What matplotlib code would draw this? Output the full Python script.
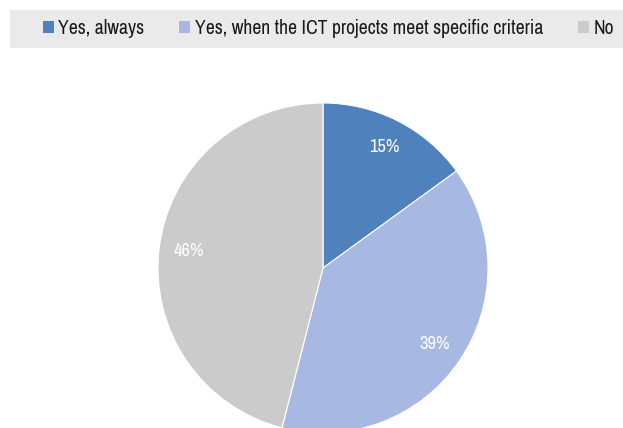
import matplotlib
matplotlib.use("Agg")
import matplotlib.pyplot as plt
from matplotlib.patches import Rectangle, Patch

categories = ["Yes, always", "Yes, when the ICT projects meet specific criteria", "No"]
shares = [15, 39, 46]
colors = ["#4F81BD", "#A7B9E2", "#CBCBCB"]

plt.rcParams['font.family'] = ['Archivo Narrow', 'Liberation Sans', 'DejaVu Sans']

W, H = 623, 428
fig = plt.figure(figsize=(W / 100, H / 100), dpi=100)

# pie axes: square, centred on the chart area
cx, cy, r = 323, 268, 165
ax = fig.add_axes([(cx - r) / W, (H - cy - r) / H, 2 * r / W, 2 * r / H])
wedges, texts, autotexts = ax.pie(
    shares, colors=colors, startangle=90, counterclock=False,
    autopct=lambda p: f"{p:.0f}%", pctdistance=0.82,
    wedgeprops=dict(edgecolor="white", linewidth=0.8),
    textprops=dict(color="white", fontsize=13.3),
)
ax.set_xlim(-1, 1)
ax.set_ylim(-1, 1)
ax.set_aspect("equal")
ax.axis("off")

# legend band across the top
fig.patches.append(Rectangle((10 / W, 1 - 47.5 / H), 1, 38 / H, transform=fig.transFigure,
                             facecolor="#EAEAEA", edgecolor="none", zorder=0))
handles = [Patch(facecolor=c, edgecolor="none") for c in colors]
fig.legend(handles, categories, loc="center left", bbox_to_anchor=(42.5 / W, 1 - 28.5 / H),
           ncol=3, frameon=False, fontsize=14.2, handlelength=0.56, handleheight=0.56,
           handletextpad=0.25, columnspacing=1.75, borderaxespad=0, borderpad=0,
           labelcolor="#1a1a1a")

fig.savefig("out.png", dpi=100)
